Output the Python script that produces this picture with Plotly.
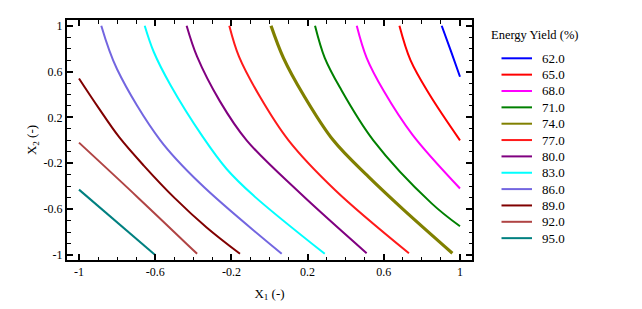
import plotly.graph_objects as go

# Contour levels (Energy Yield, %) and colours
levels = [62.0, 65.0, 68.0, 71.0, 74.0, 77.0, 80.0, 83.0, 86.0, 89.0, 92.0, 95.0]
colors = ["#0000ff", "#ff0000", "#ff00ff", "#008000", "#808000", "#ff1a1a",
          "#800080", "#00ffff", "#7366e0", "#800000", "#b04444", "#008080"]
widths = [2, 2, 2, 2, 3.2, 2, 2, 2, 2, 2, 2, 2]

# Contour line points (X1, X2)
c62_x = [0.904, 0.952, 1.0]
c62_y = [1.0, 0.78, 0.555]
c65_x = [0.682, 0.74, 0.84, 1.0]
c65_y = [1.0, 0.70, 0.40, 0.0]
c68_x = [0.458, 0.51, 0.60, 0.75, 1.0]
c68_y = [1.0, 0.72, 0.43, 0.05, -0.42]
c71_x = [0.239, 0.29, 0.37, 0.545, 0.851, 1.0]
c71_y = [1.0, 0.72, 0.46, 0.0, -0.55, -0.75]
c74_x = [0.008, 0.073, 0.177, 0.335, 0.519, 0.70, 0.96]
c74_y = [1.0, 0.72, 0.40, 0.0, -0.317, -0.60, -0.985]
c77_x = [-0.211, -0.16, -0.05, 0.10, 0.344, 0.732]
c77_y = [1.0, 0.73, 0.38, 0.0, -0.433, -0.985]
c80_x = [-0.435, -0.38, -0.26, -0.12, 0.16, 0.51]
c80_y = [1.0, 0.73, 0.34, 0.0, -0.46, -0.985]
c83_x = [-0.655, -0.608, -0.52, -0.35, -0.225, -0.085, 0.29]
c83_y = [1.0, 0.773, 0.483, 0.03, -0.25, -0.48, -0.99]
c86_x = [-0.883, -0.80, -0.573, -0.365, 0.064]
c86_y = [1.0, 0.62, 0.0, -0.375, -0.99]
c89_x = [-1.0, -0.90, -0.79, -0.66, -0.50, -0.33, -0.155]
c89_y = [0.54, 0.29, 0.03, -0.22, -0.50, -0.76, -0.99]
c92_x = [-1.0, -0.69, -0.38]
c92_y = [-0.02, -0.50, -0.99]
c95_x = [-1.0, -0.6]
c95_y = [-0.43, -1.0]

curves_x = [c62_x, c65_x, c68_x, c71_x, c74_x, c77_x, c80_x, c83_x, c86_x, c89_x, c92_x, c95_x]
curves_y = [c62_y, c65_y, c68_y, c71_y, c74_y, c77_y, c80_y, c83_y, c86_y, c89_y, c92_y, c95_y]

tick_vals = [-1, -0.6, -0.2, 0.2, 0.6, 1]
tick_text = ["-1", "-0.6", "-0.2", "0.2", "0.6", "1"]

FONT = "Liberation Serif"

fig = go.Figure()
for lv, col, w, xs, ys in zip(levels, colors, widths, curves_x, curves_y):
    fig.add_trace(go.Scatter(x=xs, y=ys, mode="lines", name=f"{lv:.1f}",
                             line=dict(color=col, width=w, shape="spline", smoothing=1.0),
                             showlegend=False, hoverinfo="skip"))

axis_common = dict(
    showgrid=False, zeroline=False, showline=True, linecolor="black", linewidth=2,
    mirror="ticks", ticks="inside", ticklen=6, tickwidth=1.5, tickcolor="black",
    tickvals=tick_vals, ticktext=tick_text, automargin=False,
    tickfont=dict(family=FONT, size=12, color="black"),
    minor=dict(ticks="inside", ticklen=3.5, tickwidth=1, tickcolor="black", dtick=0.1, tick0=-1),
)

fig.update_xaxes(range=[-1.063, 1.063], title=dict(text="X<sub>1</sub> (-)", standoff=10,
                 font=dict(family=FONT, size=13, color="black")), **axis_common)
fig.update_yaxes(range=[-1.044, 1.05], title=dict(text="X<sub>2</sub> (-)", standoff=4,
                 font=dict(family=FONT, size=13, color="black")), **axis_common)

# Page has an 8 px body margin; figure is sized so the plot box lands at page x 67..472, y 20..260
FW, FH = 634, 301
L, T, W, H = 59, 12, 405, 240
OFF = 8
def px(xp):
    return (xp - OFF - L) / W
def py(yp):
    return (T + H - (yp - OFF)) / H

annotations = [dict(x=px(489), y=py(35), xref="paper", yref="paper", text="Energy Yield (%)",
                    showarrow=False, xanchor="left", yanchor="middle",
                    font=dict(family=FONT, size=12.5, color="black"))]
shapes = []
for i, (lv, col) in enumerate(zip(levels, colors)):
    yy = py(58.3 + i * 16.35)
    shapes.append(dict(type="line", xref="paper", yref="paper", x0=px(501.5), x1=px(532),
                       y0=yy, y1=yy, line=dict(color=col, width=2)))
    annotations.append(dict(x=px(540), y=yy, xref="paper", yref="paper", text=f"{lv:.1f}",
                            showarrow=False, xanchor="left", yanchor="middle",
                            font=dict(family=FONT, size=13, color="black")))

fig.update_layout(
    width=FW, height=FH,
    margin=dict(l=L, r=FW - L - W, t=T, b=FH - T - H),
    paper_bgcolor="white", plot_bgcolor="white",
    showlegend=False, annotations=annotations, shapes=shapes,
)

fig.write_html("out.html")
